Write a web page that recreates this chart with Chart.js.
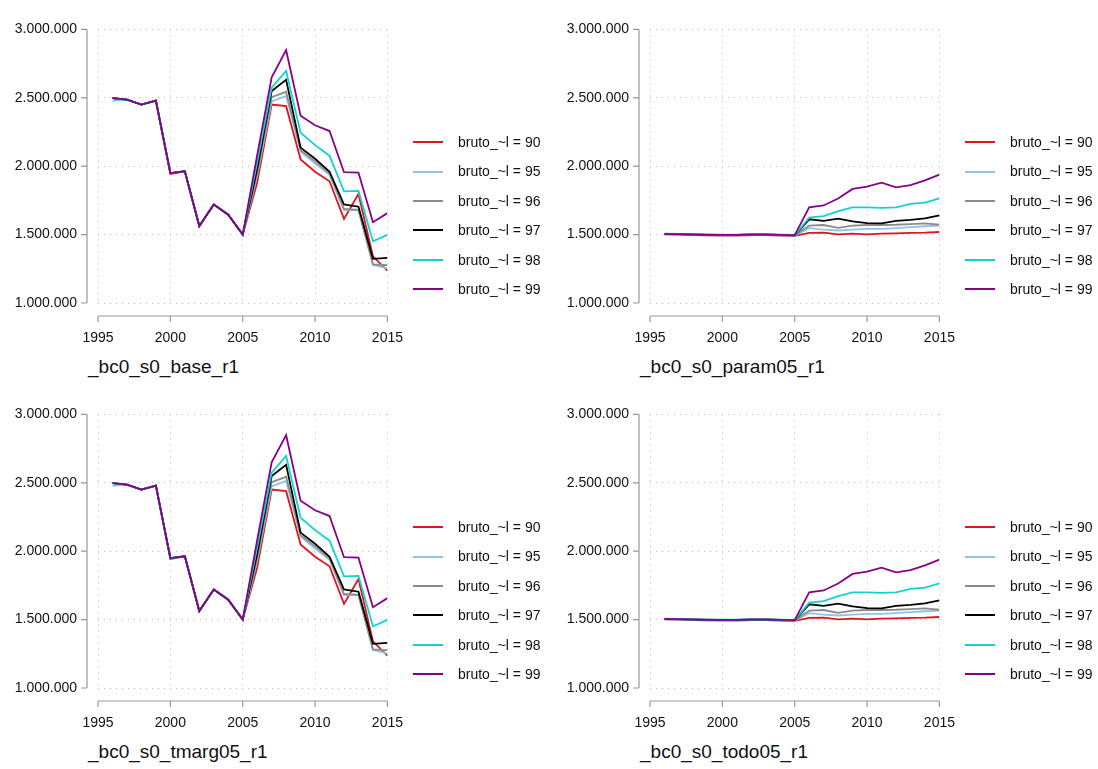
<!DOCTYPE html>
<html><head><meta charset="utf-8">
<script src="https://cdn.jsdelivr.net/npm/chart.js@4"></script>
<style>
body{margin:0;background:#fff;width:1098px;height:769px;position:relative;overflow:hidden;font-family:"Liberation Sans Narrow","Liberation Sans",Arial,sans-serif;}
.p{position:absolute;width:430px;height:350px}
.t{position:absolute;font-size:19px;color:#111}
.lg{position:absolute;font-size:14px;color:#111}
.li{position:absolute;white-space:nowrap}
.li span{display:inline-block;width:30px;height:2px;vertical-align:middle;margin-right:15px;position:relative;top:-1px}
</style></head><body>
<script>
const years=[1996,1997,1998,1999,2000,2001,2002,2003,2004,2005,2006,2007,2008,2009,2010,2011,2012,2013,2014,2015];
const labels=['bruto_~l = 90','bruto_~l = 95','bruto_~l = 96','bruto_~l = 97','bruto_~l = 98','bruto_~l = 99'];
const colors=['#e0141e','#8ec3ea','#8c8c8c','#000000','#14d2d2','#880088'];
const yTicks=[1000000,1500000,2000000,2500000,3000000];
const xTicks=[1995,2000,2005,2010,2015];
const titles=['_bc0_s0_base_r1','_bc0_s0_param05_r1','_bc0_s0_tmarg05_r1','_bc0_s0_todo05_r1'];
const early=[2498000,2486000,2451000,2480000,1950000,1963000,1563000,1720000,1645000,1500000];
const base90=[...early.map((v,i)=>i==4?1944000:v),1880000,2451000,2439000,2049000,1960000,1890000,1615000,1797000,1341000,1236000];
const base95=[...early.map((v,i)=>i==0?2478000:v),1930000,2474000,2514000,2108000,2019000,1937000,1680000,1680000,1278000,1253000];
const base96=[...early,1950000,2505000,2544000,2117000,2035000,1949000,1687000,1680000,1283000,1276000];
const base97=[...early,1980000,2549000,2631000,2136000,2054000,1960000,1720000,1704000,1323000,1330000];
const base98=[...early,2030000,2575000,2696000,2245000,2154000,2077000,1816000,1820000,1451000,1498000];
const base99=[...early,2080000,2650000,2848000,2369000,2299000,2257000,1956000,1953000,1591000,1657000];
const pe=[1505000,1503000,1500000,1498000,1497000,1497000,1500000,1500000,1497000,1495000];
const par90=[...pe.map(v=>v-4000),1512000,1514000,1502000,1507000,1502000,1507000,1509000,1512000,1514000,1519000];
const par95=[...pe.map(v=>v-3000),1547000,1537000,1530000,1537000,1542000,1542000,1547000,1554000,1561000,1565000];
const par96=[...pe,1565000,1570000,1549000,1565000,1570000,1570000,1572000,1577000,1582000,1572000];
const par97=[...pe,1612000,1600000,1617000,1596000,1584000,1582000,1600000,1607000,1619000,1640000];
const par98=[...pe.map(v=>v+2000),1624000,1635000,1671000,1699000,1699000,1696000,1699000,1724000,1734000,1764000];
const par99=[...pe.map(v=>v+1000),1700000,1713000,1764000,1834000,1850000,1880000,1846000,1862000,1897000,1939000];
const baseSet=[base90,base95,base96,base97,base98,base99];
const parSet=[par90,par95,par96,par97,par98,par99];
const panelData=[baseSet,parSet,baseSet,parSet];
const pos=[[0,0],[552,0],[0,385],[552,385]];
const fmt=v=>v.toLocaleString('de-DE');
const FONT="'Liberation Sans Narrow','Liberation Sans',Arial,sans-serif";
const axesPlugin={id:'ax',afterDraw(c){const g=c.ctx,a=c.chartArea,x=c.scales.x,y=c.scales.y;g.save();g.strokeStyle='#999';g.lineWidth=1.2;
 const ax=a.left-11;g.beginPath();g.moveTo(ax,y.getPixelForValue(3000000));g.lineTo(ax,y.getPixelForValue(1000000));
 yTicks.forEach(t=>{const py=y.getPixelForValue(t);g.moveTo(ax,py);g.lineTo(ax-6,py);});
 const by=a.bottom+13;g.moveTo(x.getPixelForValue(1995),by);g.lineTo(x.getPixelForValue(2015),by);
 xTicks.forEach(t=>{const px=x.getPixelForValue(t);g.moveTo(px,by);g.lineTo(px,by+6);});g.stroke();g.restore();}};
panelData.forEach((set,pi)=>{
 const [L,T]=pos[pi];
 const d=document.createElement('div');d.className='p';d.style.left=L+'px';d.style.top=T+'px';
 const cv=document.createElement('canvas');cv.width=430;cv.height=350;d.appendChild(cv);document.body.appendChild(d);
 new Chart(cv,{type:'line',data:{labels:years,datasets:set.map((s,i)=>({label:labels[i],order:5-i,data:s.map((v,j)=>({x:years[j],y:v})),borderColor:colors[i],borderWidth:1.8,pointRadius:0,tension:0,fill:false}))},
 options:{animation:false,responsive:false,maintainAspectRatio:false,devicePixelRatio:1,
  layout:{padding:{top:17,right:13,left:0,bottom:0}},
  plugins:{legend:{display:false},tooltip:{enabled:false}},
  scales:{x:{type:'linear',min:1995,max:2015,afterBuildTicks:s=>{s.ticks=xTicks.map(v=>({value:v}));},
    grid:{color:'#bbb',lineWidth:1,drawTicks:false},border:{display:false,dash:[1,5]},
    ticks:{padding:27,autoSkip:false,color:'#111',font:{size:14,family:FONT},callback:v=>v,maxRotation:0},afterFit:s=>{s.height=47;}},
   y:{min:1000000,max:3000000,afterBuildTicks:s=>{s.ticks=yTicks.map(v=>({value:v}));},
    grid:{color:'#bbb',lineWidth:1,drawTicks:false},border:{display:false,dash:[1,5]},
    ticks:{padding:21,autoSkip:false,color:'#111',font:{size:14,family:FONT},callback:v=>fmt(v)},afterFit:s=>{s.width=98;}}}},
  plugins:[axesPlugin]});
 const t=document.createElement('div');t.className='t';t.textContent=titles[pi];t.style.left=(L+88)+'px';t.style.top=(T+356)+'px';document.body.appendChild(t);
 labels.forEach((lb,i)=>{const e=document.createElement('div');e.className='li lg';e.style.left=(L+413)+'px';e.style.top=(T+134+i*29.4)+'px';
  e.innerHTML='<span style="background:'+colors[i]+'"></span>'+lb;document.body.appendChild(e);});
});
</script>
</body></html>
